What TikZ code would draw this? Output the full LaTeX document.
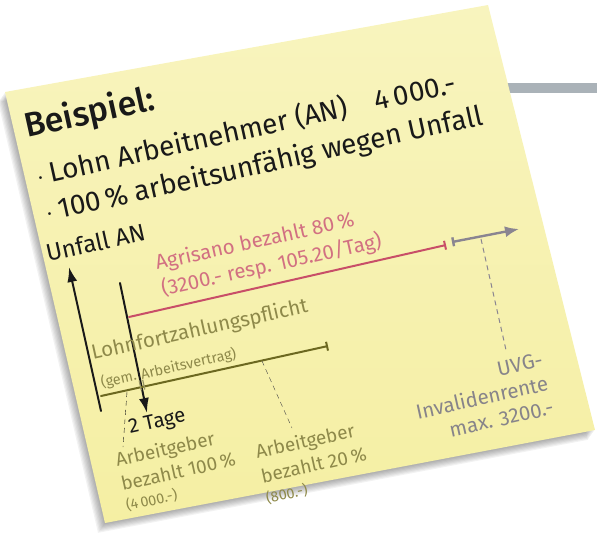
\documentclass[tikz,border=0pt]{standalone}
\usepackage{fontspec}
\setmainfont{Fira Sans}[BoldFont=* Medium]
\usepackage{xcolor}
\usetikzlibrary{arrows.meta,calc}

\definecolor{notepaper}{RGB}{245,239,163}
\definecolor{notetop}{RGB}{248,244,190}
\definecolor{barblue}{RGB}{170,178,184}
\definecolor{inkblack}{RGB}{25,25,25}
\definecolor{agrired}{RGB}{200,78,104}
\definecolor{agritext}{RGB}{210,112,130}
\definecolor{lfzolive}{RGB}{108,104,32}
\definecolor{lfztext}{RGB}{142,137,74}
\definecolor{uvggray}{RGB}{138,133,145}
\definecolor{uvgtext}{RGB}{135,132,138}

\newcommand{\notedot}{\raisebox{3pt}{\fontsize{12}{12}\selectfont\textbullet}\ }

\begin{document}
\begin{tikzpicture}[x=1pt, y=-1pt,
    hand/.style={inner sep=0pt, rotate=12.5, text=inkblack},
    timeline/.style={line width=2pt, line cap=round},
    guide/.style={thin, dash pattern=on 5pt off 4pt}]
    \useasboundingbox (0,0) rectangle (597,539);

    % Grey bar behind the note
    \fill[barblue] (430,83) rectangle (597,93);

    % Note corners
    \coordinate (nw) at (5,92);
    \coordinate (ne) at (488,5);
    \coordinate (se) at (595,430);
    \coordinate (sw) at (105,523);

    % Soft shadow (down left)
    \foreach \d in {1,...,7} {
        \fill[black, opacity=0.05]
            ([shift={(-\d,1.4*\d)}]nw) -- ([shift={(-\d,1.4*\d)}]ne) --
            ([shift={(-\d,1.4*\d)}]se) -- ([shift={(-\d,1.4*\d)}]sw) -- cycle;
    }

    % Note paper
    \shade[top color=notetop, bottom color=notepaper] (nw) -- (ne) -- (se) -- (sw) -- cycle;

    % Heading and the two facts
    \node[hand, anchor=base west, font=\bfseries\fontsize{34}{38}\selectfont] (beispiel) at (27,138) {Beispiel:};
    \node[hand, anchor=base west, font=\fontsize{28}{34}\selectfont] (lohn) at (40,185) {\notedot Lohn Arbeitnehmer (AN)\quad 4\,000.-};
    \node[hand, anchor=base west, font=\fontsize{28}{34}\selectfont] (unfaehig) at (49,221) {\notedot 100\,\% arbeitsunfähig wegen Unfall};

    % Time line points
    \coordinate (unfall-base) at (101,411);
    \coordinate (unfall-tip) at (69,267);
    \coordinate (tage-top) at (120,283);
    \coordinate (tage-tip) at (147,413);
    \coordinate (agri-start) at (129,317);
    \coordinate (agri-end) at (446,245);
    \coordinate (uvg-start) at (452,242);
    \coordinate (uvg-tip) at (519,229);
    \coordinate (lfz-start) at (101,396);
    \coordinate (lfz-end) at (328,346);
    \coordinate (lfz-tick) at (142,385);

    % Unfall and 2 Tage arrows
    \draw[timeline, inkblack, -{Latex[length=15pt,width=10pt]}] (unfall-base) -- (unfall-tip);
    \draw[timeline, inkblack, -{Latex[length=15pt,width=10pt]}] (tage-top) -- (tage-tip);

    % Agrisano (red) and UVG (grey)
    \draw[timeline, agrired, -{Bar[width=9pt]}] (agri-start) -- (agri-end);
    \draw[timeline, uvggray, line width=2.4pt, {Bar[width=9pt]}-{Latex[length=14pt,width=11pt]}] (uvg-start) -- (uvg-tip);

    % Lohnfortzahlung (olive) with the 2-day mark
    \draw[timeline, lfzolive, -{Bar[width=9pt]}] (lfz-start) -- (lfz-end);
    \begin{scope}[shift={(lfz-tick)}, rotate=12.5]
        \draw[lfzolive!70, line width=1.2pt] (-1.8,-5) -- (-1.8,5);
        \draw[lfzolive!70, line width=1.2pt] (1.8,-5) -- (1.8,5);
    \end{scope}

    % Dashed guides to the labels
    \coordinate (ag100-top) at (127,392);
    \coordinate (ag100-bot) at (123,447);
    \coordinate (ag20-top) at (262,361);
    \coordinate (ag20-bot) at (292,428);
    \coordinate (rente-top) at (481,239);
    \coordinate (rente-bot) at (506,350);
    \draw[guide, inkblack] (ag100-top) -- (ag100-bot);
    \draw[guide, inkblack!80] (ag20-top) -- (ag20-bot);
    \draw[guide, uvggray, line width=1pt] (rente-top) -- (rente-bot);

    % Labels on the time line
    \node[hand, anchor=base west, font=\fontsize{24}{30}\selectfont] (unfall) at (48,262) {Unfall AN};
    \node[hand, anchor=base west, text=agritext, font=\fontsize{20.5}{26}\selectfont] (agrisano) at (157,270) {Agrisano bezahlt 80\,\%};
    \node[hand, anchor=base west, text=agritext, font=\fontsize{20.5}{26}\selectfont] (agri-tag) at (163,296) {(3200.- resp. 105.20/Tag)};
    \node[hand, anchor=base west, text=lfztext, font=\fontsize{20.5}{26}\selectfont] (lfz) at (93,360) {Lohnfortzahlungspflicht};
    \node[hand, anchor=base west, text=lfztext, font=\fontsize{14.5}{19}\selectfont] (gem) at (102,388) {(gem. Arbeitsvertrag)};
    \node[hand, anchor=base west, font=\fontsize{20.5}{26}\selectfont] (tage) at (130,434) {2 Tage};

    % Who pays
    \node[hand, anchor=north west, align=left, text=lfztext, font=\fontsize{19}{24.7}\selectfont] (ag100) at (114,452)
        {Arbeitgeber\\bezahlt 100\,\%\\[-4pt]{\fontsize{14.5}{19}\selectfont (4\,000.-)}};
    \node[hand, anchor=north west, align=left, text=lfztext, font=\fontsize{19}{25}\selectfont] (ag20) at (254,444)
        {Arbeitgeber\\bezahlt 20\,\%\\[-4pt]{\fontsize{14.5}{19}\selectfont (800.-)}};
    \node[hand, anchor=north east, align=right, text=uvgtext, font=\fontsize{20.5}{24.5}\selectfont] (rente) at (541,352)
        {UVG-\\Invalidenrente\\max. 3200.-};

\end{tikzpicture}
\end{document}
